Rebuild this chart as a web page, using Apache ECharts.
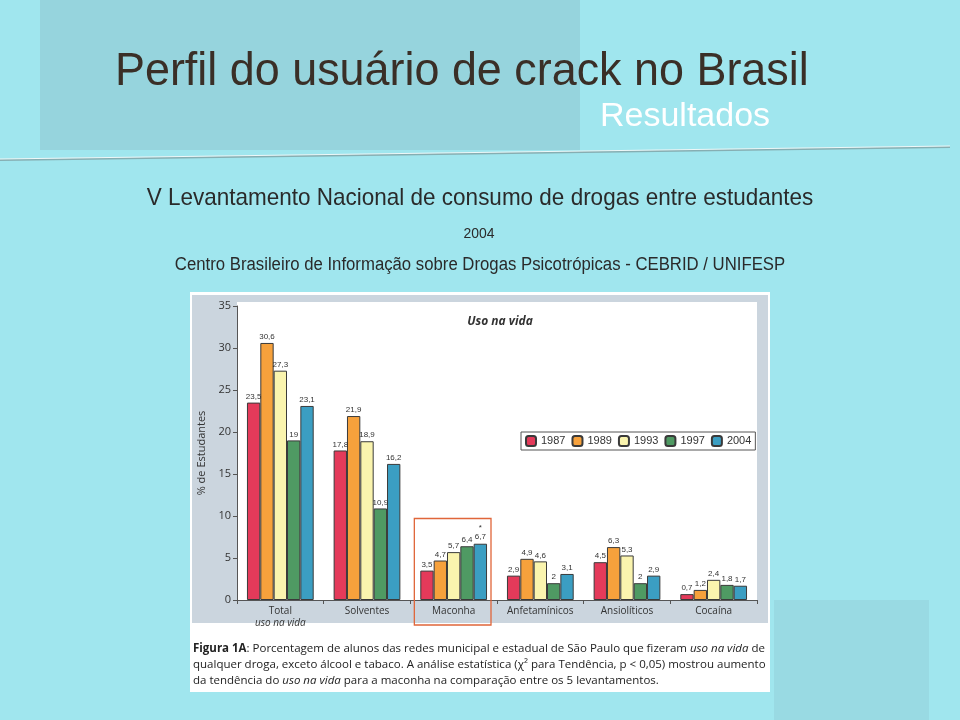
<!DOCTYPE html>
<html><head><meta charset="utf-8">
<script src="https://cdn.jsdelivr.net/npm/echarts@6/dist/echarts.min.js"></script>
<style>html,body{margin:0;padding:0;background:#a0e6ee;}#c{width:960px;height:720px;}</style>
</head><body><div id="c"></div>
<script>
const categories = ['Total\nuso na vida', 'Solventes', 'Maconha', 'Anfetamínicos', 'Ansiolíticos', 'Cocaína'];
const years = ['1987', '1989', '1993', '1997', '2004'];
const v1987 = [23.5, 17.8, 3.5, 2.9, 4.5, 0.7];
const v1989 = [30.6, 21.9, 4.7, 4.9, 6.3, 1.2];
const v1993 = [27.3, 18.9, 5.7, 4.6, 5.3, 2.4];
const v1997 = [19, 10.9, 6.4, 2, 2, 1.8];
const v2004 = [23.1, 16.2, 6.7, 3.1, 2.9, 1.7];
const yTicks = [0, 5, 10, 15, 20, 25, 30, 35];
const colors = ['#e43a5a', '#f6a13c', '#faf4ae', '#4f9a63', '#3b9ec2'];

const values = [v1987, v1989, v1993, v1997, v2004];
const chart = echarts.init(document.getElementById('c'));
const fmt = p => String(p.value).replace('.', ',');
const series = years.map((y, i) => ({
  name: y, type: 'bar', barGap: '0%', barCategoryGap: '23%',
  itemStyle: {color: colors[i], borderColor: '#3a3a3a', borderWidth: 1},
  label: {show: true, position: 'top', distance: 2, fontSize: 8, color: '#333',
          fontFamily: 'Liberation Sans', formatter: fmt},
  data: values[i].map((v, j) => (i === 4 && j === 2)
    ? {value: v, label: {formatter: p => '*\n' + fmt(p), lineHeight: 9}}
    : v)
}));

const bg = [
  {type: 'rect', shape: {x: 40, y: 0, width: 540, height: 150}, style: {fill: '#96d4dd'}, z: -10},
  {type: 'rect', shape: {x: 774, y: 600, width: 155, height: 120}, style: {fill: '#99dae3'}, z: -10},
  {type: 'line', shape: {x1: 0, y1: 160, x2: 950, y2: 147}, style: {stroke: '#86aeb2', lineWidth: 2}, z: -9},
  {type: 'line', shape: {x1: 0, y1: 159, x2: 950, y2: 146}, style: {stroke: '#eef8f8', lineWidth: 1.2}, z: -8},
  {type: 'text', x: 115, y: 72, scaleX: 0.976, style: {text: 'Perfil do usuário de crack no Brasil', fontSize: 46, fontFamily: 'Liberation Sans', fill: '#3a2f27', textVerticalAlign: 'middle'}},
  {type: 'text', x: 600, y: 117, style: {text: 'Resultados', fontSize: 34, fontFamily: 'Liberation Sans', fill: '#ffffff', textVerticalAlign: 'middle'}},
  {type: 'text', x: 480, y: 198, scaleX: 0.945, style: {text: 'V Levantamento Nacional de consumo de drogas entre estudantes', fontSize: 23.8, fontFamily: 'Liberation Sans', fill: '#2a2a2a', textAlign: 'center', textVerticalAlign: 'middle'}},
  {type: 'text', x: 479, y: 234, scaleX: 0.93, style: {text: '2004', fontSize: 15, fontFamily: 'Liberation Sans', fill: '#2a2a2a', textAlign: 'center', textVerticalAlign: 'middle'}},
  {type: 'text', x: 480, y: 265, scaleX: 0.93, style: {text: 'Centro Brasileiro de Informação sobre Drogas Psicotrópicas - CEBRID / UNIFESP', fontSize: 18, fontFamily: 'Liberation Sans', fill: '#2a2a2a', textAlign: 'center', textVerticalAlign: 'middle'}},
  // figure frame
  {type: 'rect', shape: {x: 190, y: 292, width: 580, height: 400}, style: {fill: '#ffffff'}, z: -5},
  {type: 'rect', shape: {x: 192, y: 295, width: 576, height: 328}, style: {fill: '#cbd5de'}, z: -4},
  {type: 'rect', shape: {x: 237, y: 302, width: 520, height: 298}, style: {fill: '#ffffff'}, z: -3},
  {type: 'text', x: 193, y: 641, style: {
    text: '{b|Figura 1A}: Porcentagem de alunos das redes municipal e estadual de São Paulo que fizeram {i|uso na vida} de\nqualquer droga, exceto álcool e tabaco. A análise estatística (χ² para Tendência, p < 0,05) mostrou aumento\nda tendência do {i|uso na vida} para a maconha na comparação entre os 5 levantamentos.',
    fontSize: 11.5, fontFamily: 'Open Sans', fill: '#222', lineHeight: 16,
    rich: {b: {fontWeight: 'bold', fontSize: 11.5, fontFamily: 'Open Sans', fill: '#222'},
           i: {fontStyle: 'italic', fontSize: 11.5, fontFamily: 'Open Sans', fill: '#222'}}
  }}
];

chart.setOption({
  animation: false,
  backgroundColor: '#a0e6ee',
  title: {text: 'Uso na vida', left: 495, top: 311, textAlign: 'center',
          textStyle: {fontSize: 12, fontStyle: 'italic', fontWeight: 'bold', color: '#333', fontFamily: 'Open Sans'}},
  legend: {data: years, left: 521, top: 432, itemWidth: 10, itemHeight: 10, itemGap: 6,
           borderColor: '#555', borderWidth: 1, padding: [3, 4], backgroundColor: '#fff',
           textStyle: {fontSize: 11, color: '#333', fontFamily: 'Liberation Sans'}},
  grid: {left: 237, right: 203, top: 306, bottom: 120},
  xAxis: {type: 'category', data: categories,
          axisLine: {lineStyle: {color: '#555'}},
          axisTick: {show: true, length: 4, lineStyle: {color: '#555'}},
          axisLabel: {interval: 0, fontSize: 10, color: '#333', fontFamily: 'Open Sans', margin: 5, lineHeight: 12,
            formatter: v => v.indexOf('\n') >= 0 ? v.split('\n')[0] + '\n{i|' + v.split('\n')[1] + '}' : v,
            rich: {i: {fontStyle: 'italic', fontSize: 10, color: '#333', fontFamily: 'Open Sans'}}}},
  yAxis: {type: 'value', min: 0, max: 35, interval: 5,
          name: '% de Estudantes', nameLocation: 'middle', nameGap: 22, nameRotate: 90,
          nameTextStyle: {fontSize: 11, color: '#333', fontFamily: 'Open Sans'},
          axisLine: {show: true, lineStyle: {color: '#555'}},
          axisTick: {show: true, length: 4, lineStyle: {color: '#555'}},
          splitLine: {show: false},
          axisLabel: {fontSize: 11, color: '#333', fontFamily: 'Open Sans', margin: 6,
                      formatter: v => yTicks.indexOf(v) >= 0 ? String(v) : ''}},
  series: series,
  graphic: bg
});

// highlight box around Maconha, computed from the axis scale
const idx = 2;
const c0 = chart.convertToPixel({xAxisIndex: 0}, idx);
const c1 = chart.convertToPixel({xAxisIndex: 0}, idx + 1);
const w = c1 - c0;
const yTop = chart.convertToPixel({yAxisIndex: 0}, 9.7);
const yBot = chart.convertToPixel({yAxisIndex: 0}, 0) + 25;
bg.push({type: 'rect', shape: {x: c0 - w / 2 + 4, y: yTop, width: w - 10, height: yBot - yTop},
         style: {fill: 'none', stroke: '#e0663a', lineWidth: 1.3}, z: 10});
chart.setOption({graphic: bg});
</script></body></html>
